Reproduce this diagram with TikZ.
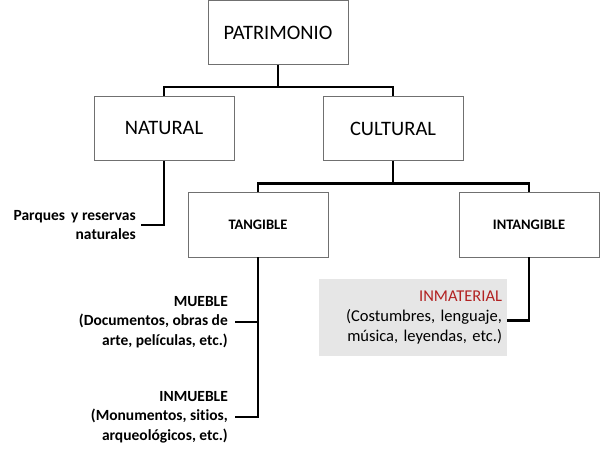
\documentclass[tikz,border=0pt]{standalone}
\usepackage{fontspec}
\setmainfont{Carlito}[Ligatures=NoCommon]
\usetikzlibrary{positioning}
\definecolor{inmatred}{RGB}{178,34,34}
\definecolor{boxgray}{RGB}{112,112,112}
\definecolor{notegray}{RGB}{230,230,230}

\begin{document}
\begin{tikzpicture}[x=1pt,y=-1pt,
    box/.style={draw=boxgray, line width=0.9pt, minimum width=140pt, inner sep=0pt},
    bigbox/.style={box, minimum height=64pt, font=\fontsize{20.5}{23}\selectfont},
    smallbox/.style={box, minimum height=65pt, font=\fontsize{14.5}{17}\selectfont\bfseries},
    note/.style={align=right, inner sep=0pt, font=\fontsize{15.5}{19.5}\selectfont\bfseries},
    link/.style={line width=2.6pt, black}]
      \useasboundingbox (0,0) rectangle (600,449);

      \node[bigbox] (P) at (278,32.5)  {PATRIMONIO};
      \node[bigbox] (N) at (164,128.5) {NATURAL};
      \node[bigbox] (C) at (393,128.5) {CULTURAL};
      \node[smallbox] (T) at (258,224.5) {TANGIBLE};
      \node[smallbox] (I) at (529,224.5) {INTANGIBLE};

      \node[note, anchor=east] (parques)  at (136,225) {Parques\, y reservas\\naturales};
      \node[note, anchor=east] (mueble)   at (228,322) {MUEBLE\\(Documentos, obras de\\arte, películas, etc.)};
      \node[note, anchor=east] (inmueble) at (228,417) {INMUEBLE\\(Monumentos, sitios,\\arqueológicos, etc.)};
      \node[fill=notegray, minimum width=188pt, minimum height=77pt, text width=178pt,
            align=right, inner sep=5pt, font=\fontsize{16.5}{20}\selectfont]
            (M) at (413,317.5) {\textcolor{inmatred}{INMATERIAL}\\(Costumbres, lenguaje,\\música, leyendas, etc.)};

      \draw[link] (P.south) -- ([yshift=9pt]P.south |- N.north);
      \draw[link] (N.north) |- ([yshift=9pt]C.north) -- (C.north);
      \draw[link] (C.south) -- ([yshift=8pt]C.south |- T.north);
      \draw[link] (T.north) |- ([yshift=8pt]I.north) -- (I.north);
      \draw[link] (N.south) |- ([xshift=5pt]parques.east);
      \draw[link] (T.south) |- ([xshift=7pt]inmueble.east);
      \draw[link] ([xshift=7pt]mueble.east) -- (mueble.east -| T.south);
      \draw[link] (I.south) |- ([yshift=-3pt]M.east);
    \end{tikzpicture}
\end{document}
